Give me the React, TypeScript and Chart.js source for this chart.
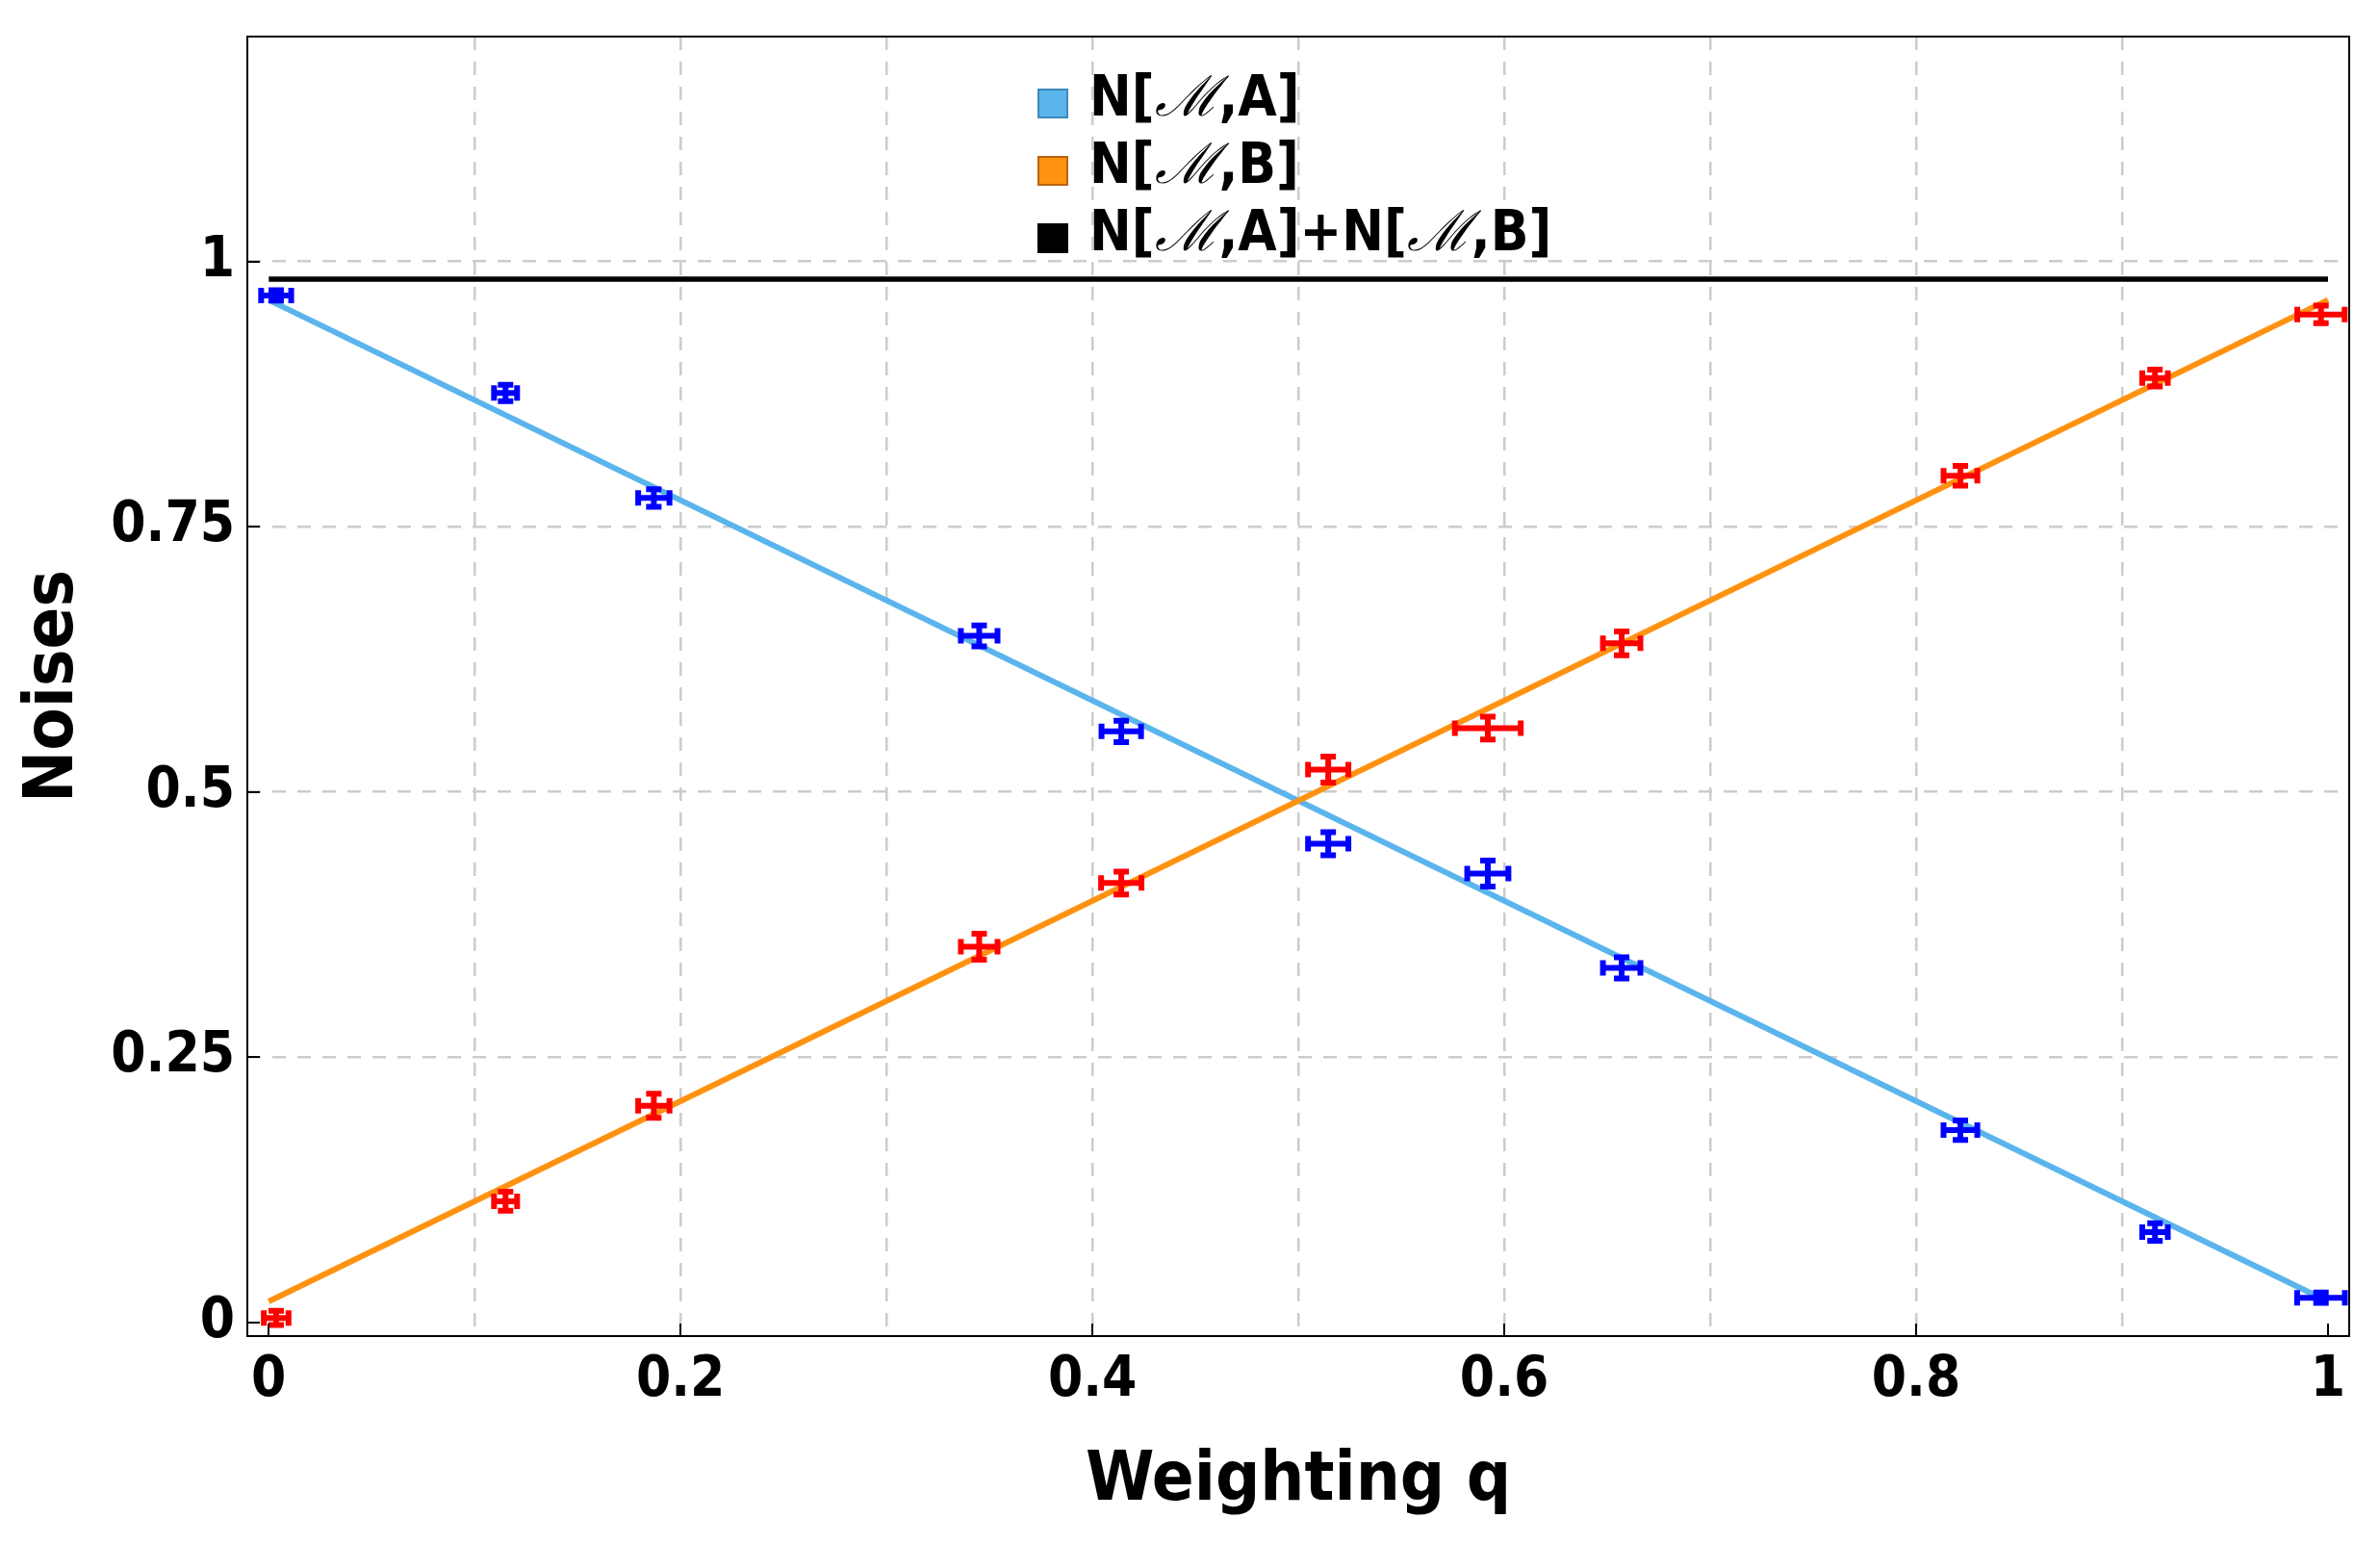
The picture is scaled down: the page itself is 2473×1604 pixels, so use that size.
import React, { useEffect, useRef } from 'react';
import { Chart, registerables } from 'chart.js';

Chart.register(...registerables);

// ---- data ----
const qValues = [0.0036, 0.115, 0.187, 0.345, 0.414, 0.5145, 0.592, 0.657, 0.8215, 0.916, 0.9966];
const noiseA = [0.968, 0.876, 0.777, 0.647, 0.557, 0.451, 0.423, 0.334, 0.181, 0.085, 0.023];
const noiseB = [0.004, 0.114, 0.204, 0.354, 0.414, 0.521, 0.56, 0.64, 0.798, 0.89, 0.95];
const qErrA = [0.0087, 0.007, 0.009, 0.0103, 0.011, 0.0112, 0.0114, 0.0105, 0.0096, 0.0076, 0.013];
const qErrB = [0.0074, 0.007, 0.009, 0.0103, 0.0112, 0.0112, 0.0174, 0.0105, 0.0096, 0.0076, 0.0129];
const errA = [0.0076, 0.0105, 0.011, 0.0126, 0.0128, 0.0136, 0.015, 0.0128, 0.012, 0.011, 0.0076];
const errB = [0.0094, 0.0117, 0.014, 0.015, 0.0135, 0.015, 0.0135, 0.014, 0.012, 0.0107, 0.011];

const fitQ = [0, 1];
const fitA = [0.9637, 0.0196];
const fitB = [0.0196, 0.9637];
const fitSum = [0.9833, 0.9833];

const xTicks = [0, 0.1, 0.2, 0.3, 0.4, 0.5, 0.6, 0.7, 0.8, 0.9, 1];
const xTickLabels = ['0', '', '0.2', '', '0.4', '', '0.6', '', '0.8', '', '1'];
const xGridOn = [false, true, true, true, true, true, true, true, true, true, false];
const yTicks = [0, 0.25, 0.5, 0.75, 1];
const yTickLabels = ['0', '0.25', '0.5', '0.75', '1'];
const yGridOn = [false, true, true, true, true];

const legendLabels = ['N[ℳ,A]', 'N[ℳ,B]', 'N[ℳ,A]+N[ℳ,B]'];

const BLUE_LINE = '#5BB5EC';
const ORANGE_LINE = '#FF9210';
const legendFills = [BLUE_LINE, ORANGE_LINE, '#000000'];
const legendStrokes = ['#3E88B8', '#B8650F', '#000000'];

const FONT = "'DejaVu Sans Condensed', 'DejaVu Sans', sans-serif";

const toPts = (xs: number[], ys: number[]) => xs.map((x, i) => ({ x, y: ys[i] }));

const errorBarPlugin = {
  id: 'errorBars',
  afterDatasetsDraw(chart: any) {
    const { ctx } = chart;
    const xs = chart.scales.x;
    const ys = chart.scales.y;
    const cap = 8;
    const lw = 6;
    const draw = (vals: number[], xe: number[], ye: number[], color: string) => {
      ctx.save();
      ctx.strokeStyle = color;
      ctx.lineWidth = lw;
      ctx.lineCap = 'butt';
      qValues.forEach((q, i) => {
        const px = xs.getPixelForValue(q);
        const py = ys.getPixelForValue(vals[i]);
        const x1 = xs.getPixelForValue(q - xe[i]) + lw / 2;
        const x2 = xs.getPixelForValue(q + xe[i]) - lw / 2;
        const y1 = ys.getPixelForValue(vals[i] - ye[i]) - lw / 2;
        const y2 = ys.getPixelForValue(vals[i] + ye[i]) + lw / 2;
        ctx.beginPath();
        ctx.moveTo(x1, py); ctx.lineTo(x2, py);
        ctx.moveTo(px, y1); ctx.lineTo(px, y2);
        ctx.moveTo(x1, py - cap); ctx.lineTo(x1, py + cap);
        ctx.moveTo(x2, py - cap); ctx.lineTo(x2, py + cap);
        ctx.moveTo(px - cap, y1); ctx.lineTo(px + cap, y1);
        ctx.moveTo(px - cap, y2); ctx.lineTo(px + cap, y2);
        ctx.stroke();
      });
      ctx.restore();
    };
    draw(noiseB, qErrB, errB, '#FF0000');
    draw(noiseA, qErrA, errA, '#0000FF');
  },
};

const framePlugin = {
  id: 'frameTicks',
  afterDraw(chart: any) {
    const { ctx, chartArea } = chart;
    const xs = chart.scales.x;
    const ys = chart.scales.y;
    ctx.save();
    ctx.strokeStyle = '#000';
    ctx.lineWidth = 2;
    ctx.strokeRect(chartArea.left, chartArea.top, chartArea.right - chartArea.left, chartArea.bottom - chartArea.top);
    ctx.beginPath();
    xTicks.forEach((v, i) => {
      if (!xTickLabels[i]) return;
      const px = Math.round(xs.getPixelForValue(v));
      ctx.moveTo(px, chartArea.bottom);
      ctx.lineTo(px, chartArea.bottom - 13);
    });
    yTicks.forEach((v) => {
      const py = Math.round(ys.getPixelForValue(v));
      ctx.moveTo(chartArea.left, py);
      ctx.lineTo(chartArea.left + 13, py);
    });
    ctx.stroke();

    // legend
    const left = chartArea.left + 821;
    const top = chartArea.top + 54;
    const pitch = 70;
    const boldFont = `bold 58px ${FONT}`;
    const scriptFont = `italic 400 58px 'DejaVu Serif', serif`;
    legendLabels.forEach((label, i) => {
      const sy = top + i * pitch;
      ctx.fillStyle = legendFills[i];
      ctx.fillRect(left, sy, 32, 31);
      if (i < 2) {
        ctx.strokeStyle = legendStrokes[i];
        ctx.lineWidth = 2;
        ctx.strokeRect(left + 1, sy + 1, 30, 29);
      }
      const baseline = sy + 28;
      let tx = left + 54;
      ctx.fillStyle = '#000';
      ctx.textBaseline = 'alphabetic';
      ctx.textAlign = 'left';
      const parts = label.split('ℳ');
      parts.forEach((p, j) => {
        ctx.font = boldFont;
        ctx.fillText(p, tx, baseline);
        tx += ctx.measureText(p).width;
        if (j < parts.length - 1) {
          ctx.font = scriptFont;
          ctx.fillText('ℳ', tx, baseline);
          tx += ctx.measureText('ℳ').width;
        }
      });
    });
    ctx.restore();
  },
};

export default function App() {
  const ref = useRef<HTMLCanvasElement | null>(null);
  useEffect(() => {
    document.body.style.margin = '0';
    const canvas = ref.current;
    if (!canvas) return;
    const chart = new Chart(canvas, {
      type: 'scatter',
      data: {
        datasets: [
          {
            label: 'fit B',
            data: toPts(fitQ, fitB),
            showLine: true,
            borderColor: ORANGE_LINE,
            borderWidth: 6,
            pointRadius: 0,
            fill: false,
          },
          {
            label: 'fit A',
            data: toPts(fitQ, fitA),
            showLine: true,
            borderColor: BLUE_LINE,
            borderWidth: 6,
            pointRadius: 0,
            fill: false,
          },
          {
            label: 'sum',
            data: toPts(fitQ, fitSum),
            showLine: true,
            borderColor: '#000000',
            borderWidth: 5.5,
            pointRadius: 0,
            fill: false,
          },
          {
            label: 'N[M,A] data',
            data: toPts(qValues, noiseA),
            pointRadius: 0,
            showLine: false,
          },
          {
            label: 'N[M,B] data',
            data: toPts(qValues, noiseB),
            pointRadius: 0,
            showLine: false,
          },
        ],
      },
      options: {
        animation: false,
        responsive: false,
        devicePixelRatio: 1,
        layout: { padding: { left: 0, right: 32, top: 38, bottom: 0 } },
        plugins: { legend: { display: false }, tooltip: { enabled: false } },
        scales: {
          x: {
            type: 'linear',
            min: -0.0104,
            max: 1.0103,
            afterBuildTicks: (s: any) => {
              s.ticks = xTicks.map((v) => ({ value: v }));
            },
            afterFit: (s: any) => {
              s.height = 216;
              s.paddingLeft = 0;
              s.paddingRight = 0;
            },
            ticks: {
              callback: (_v: any, i: number) => xTickLabels[i],
              autoSkip: false,
              maxRotation: 0,
              padding: 12,
              color: '#000',
              font: { family: FONT, size: 58, weight: 'bold' },
            },
            grid: {
              color: (c: any) => (xGridOn[c.index] ? '#cccccc' : 'rgba(0,0,0,0)'),
              lineWidth: 2.5,
              drawTicks: false,
            },
            border: { display: false, dash: [14, 12] },
            title: {
              display: true,
              text: 'Weighting q',
              color: '#000',
              font: { family: FONT, size: 72, weight: 'bold' },
              padding: { top: 0, bottom: 22 },
            },
          },
          y: {
            type: 'linear',
            min: -0.0131,
            max: 1.212,
            afterBuildTicks: (s: any) => {
              s.ticks = yTicks.map((v) => ({ value: v }));
            },
            afterFit: (s: any) => {
              s.width = 257;
              s.paddingTop = 0;
              s.paddingBottom = 0;
            },
            ticks: {
              callback: (_v: any, i: number) => yTickLabels[i],
              autoSkip: false,
              padding: 13,
              color: '#000',
              font: { family: FONT, size: 58, weight: 'bold' },
            },
            grid: {
              color: (c: any) => (yGridOn[c.index] ? '#cccccc' : 'rgba(0,0,0,0)'),
              lineWidth: 2.5,
              drawTicks: false,
            },
            border: { display: false, dash: [14, 12] },
            title: {
              display: true,
              text: 'Noises',
              color: '#000',
              font: { family: FONT, size: 72, weight: 'bold' },
              padding: { top: 13, bottom: 0 },
            },
          },
        },
      },
      plugins: [errorBarPlugin, framePlugin],
    } as any);
    return () => chart.destroy();
  }, []);
  return (
    <div style={{ width: 2473, height: 1604, background: '#fff' }}>
      <canvas ref={ref} width={2473} height={1604} style={{ display: 'block', width: 2473, height: 1604 }} />
    </div>
  );
}
